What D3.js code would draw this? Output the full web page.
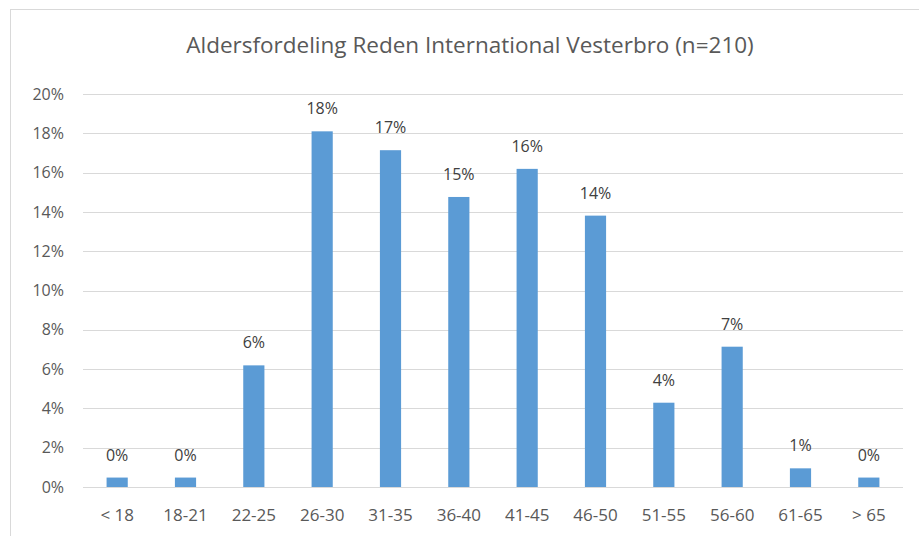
<!DOCTYPE html>
<html>
<head>
<meta charset="utf-8">
<script src="https://cdn.jsdelivr.net/npm/d3@7"></script>
<style>
  html, body { margin: 0; padding: 0; background: #fff; }
  svg { display: block; font-family: "Open Sans", "Noto Sans", sans-serif; }
</style>
</head>
<body>
<div id="chart"></div>
<script>
  // age groups and their share of members (%)
  var categories = ["< 18", "18-21", "22-25", "26-30", "31-35", "36-40", "41-45", "46-50", "51-55", "56-60", "61-65", "> 65"];
  var shares = [0.48, 0.48, 6.19, 18.1, 17.14, 14.76, 16.19, 13.81, 4.29, 7.14, 0.95, 0.48];
  var yTicks = [0, 2, 4, 6, 8, 10, 12, 14, 16, 18, 20];
  var title = "Aldersfordeling Reden International Vesterbro (n=210)";

  (function () {
    "use strict";

    var W = 919, H = 536;
    var m = { left: 83, right: 903, top: 94, bottom: 487 };
    var font = "Open Sans, Noto Sans, sans-serif";

    var svg = d3.select("#chart").append("svg")
      .attr("width", W)
      .attr("height", H);

    // chart border
    svg.append("rect")
      .attr("x", 10.5).attr("y", 9.5)
      .attr("width", W + 10).attr("height", H + 10)
      .attr("fill", "none")
      .attr("stroke", "#d9d9d9");

    var x = d3.scaleBand().domain(categories).range([m.left, m.right]).padding(0);
    var y = d3.scaleLinear().domain([0, 20]).range([m.bottom, m.top]);

    svg.append("g").selectAll("line")
      .data(yTicks)
      .join("line")
      .attr("x1", m.left).attr("x2", m.right)
      .attr("y1", function (d) { return Math.round(y(d)) + 0.5; })
      .attr("y2", function (d) { return Math.round(y(d)) + 0.5; })
      .attr("stroke", "#d9d9d9")
      .attr("stroke-width", 1);

    var yAxis = d3.axisLeft(y).tickValues(yTicks).tickSize(0).tickPadding(0)
      .tickFormat(function (d) { return d + "%"; });
    var yg = svg.append("g").attr("transform", "translate(64,0)").call(yAxis);
    yg.select(".domain").remove();
    yg.selectAll("text")
      .attr("font-size", 16)
      .attr("font-family", font)
      .attr("fill", "#595959");

    var xAxis = d3.axisBottom(x).tickSize(0).tickPadding(0);
    var xg = svg.append("g").attr("transform", "translate(0," + (m.bottom + 22) + ")").call(xAxis);
    xg.select(".domain").remove();
    xg.selectAll("text")
      .attr("font-size", 17)
      .attr("font-family", font)
      .attr("fill", "#595959");

    var barW = x.bandwidth() * 0.31;

    svg.append("g").selectAll("rect")
      .data(shares)
      .join("rect")
      .attr("x", function (d, i) { return x(categories[i]) + x.bandwidth() / 2 - barW / 2; })
      .attr("y", function (d) { return y(d); })
      .attr("width", barW)
      .attr("height", function (d) { return m.bottom - y(d); })
      .attr("fill", "#5b9bd5");

    svg.append("g").selectAll("text")
      .data(shares)
      .join("text")
      .attr("x", function (d, i) { return x(categories[i]) + x.bandwidth() / 2; })
      .attr("y", function (d) { return y(d) - 17; })
      .attr("text-anchor", "middle")
      .attr("font-size", 16)
      .attr("font-family", font)
      .attr("fill", "#404040")
      .text(function (d) { return Math.round(d) + "%"; });

    svg.append("text")
      .attr("x", 470)
      .attr("y", 53)
      .attr("text-anchor", "middle")
      .attr("font-size", 22.5)
      .attr("font-family", font)
      .attr("fill", "#595959")
      .text(title);
  })();
</script>
</body>
</html>
